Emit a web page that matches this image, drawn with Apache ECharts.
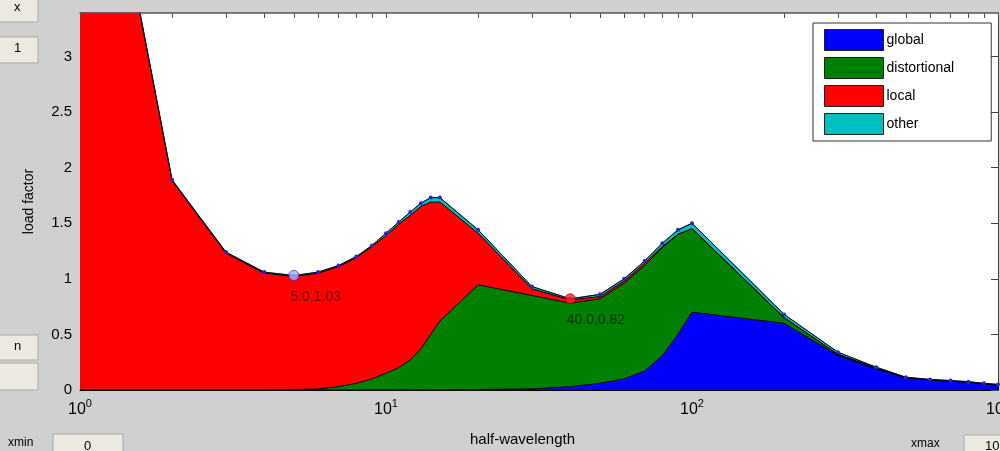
<!DOCTYPE html>
<html>
<head>
<meta charset="utf-8">
<script src="https://cdn.jsdelivr.net/npm/echarts@6/dist/echarts.min.js"></script>
<style>
html,body{margin:0;padding:0;background:#d0d0d0;}
#c{width:1000px;height:451px;}
</style>
</head>
<body>
<div id="c"></div>
<script>
// ---- data ----
const halfWavelength = [1,2,3,4,5,6,7,8,9,10,11,12,13,14,15,20,30,40,50,60,70,80,90,100,200,300,400,500,600,700,800,900,1000];
const globalMode   = [0,0,0,0,0,0,0,0,0,0,0,0,0,0,0,0.005,0.01,0.03,0.06,0.10,0.17,0.31,0.50,0.70,0.60,0.31,0.19,0.11,0.09,0.08,0.07,0.055,0.045];
const distortional = [0,0,0,0,0.003,0.01,0.03,0.06,0.10,0.15,0.20,0.27,0.37,0.50,0.62,0.94,0.84,0.75,0.76,0.86,0.95,0.97,0.90,0.75,0.05,0.01,0.005,0,0,0,0,0,0];
const localMode    = [6.19,1.88,1.23,1.05,1.017,1.04,1.08,1.13,1.19,1.24,1.29,1.30,1.28,1.19,1.07,0.465,0.06,0.03,0.02,0.02,0.02,0.01,0,0,0,0,0,0,0,0,0,0,0];
const otherMode    = [0.01,0.01,0.01,0.01,0.01,0.01,0.01,0.01,0.01,0.02,0.02,0.03,0.03,0.04,0.04,0.03,0.02,0.01,0.02,0.02,0.02,0.03,0.04,0.05,0.03,0.02,0.01,0.005,0.005,0.005,0.005,0.005,0.005];
const seriesNames  = ['global','distortional','local','other'];
const seriesColors = ['#0000ff','#008000','#ff0000','#00bfbf'];
const yTicks = [0,0.5,1,1.5,2,2.5,3];
const markedX = [5, 40];
const markedColors = ['#b0b0f0','#ff2020'];
const markedBorders = ['#3030e0','#c00000'];

// ---- derived: cumulative stacks (bottom to top) ----
const comps = [globalMode, distortional, localMode, otherMode];
const cumul = [];
comps.forEach((arr,si)=>{
  cumul.push(arr.map((v,i)=> v + (si>0 ? cumul[si-1][i] : 0)));
});
const total = cumul[cumul.length-1];
const pairs = arr => halfWavelength.map((x,i)=>[x, arr[i]]);
const minorTicks = [];
for (let d=0; d<3; d++) for (let k=1;k<10;k++) minorTicks.push(Math.log10(k*Math.pow(10,d)));
minorTicks.push(3);

const FONT = 'Liberation Sans, Arial, sans-serif';
const chart = echarts.init(document.getElementById('c'), null, {renderer:'canvas'});

// top layer drawn first, lower layers painted over it (opaque fills to zero)
const areaSeries = seriesNames.map((n,si)=>({
  name: n, type:'line', xAxisIndex:0, yAxisIndex:0,
  data: pairs(cumul[si]), showSymbol:false, smooth:false,
  lineStyle:{color:'#000', width:1},
  itemStyle:{color: seriesColors[si]},
  areaStyle:{color: seriesColors[si], opacity:1, origin:'start'},
  emphasis:{disabled:true}, z: 2
}));
const orderedAreas = areaSeries.slice().reverse();

const marked = markedX.map((mx,j)=>{
  const i = halfWavelength.indexOf(mx);
  return {
    value:[mx, total[i]],
    symbolSize: 10,
    itemStyle:{color: markedColors[j], borderColor: markedBorders[j], borderWidth:1},
    label:{show:true, formatter: mx.toFixed(1)+','+total[i].toFixed(2),
      position:[2,20], align:'left', verticalAlign:'top',
      fontSize:14, fontFamily:FONT, color: j===0 ? '#4a0000' : '#0c1a0c'}
  };
});

chart.setOption({
  backgroundColor:'#d0d0d0',
  animation:false,
  grid:{left:80, right:2, top:13, bottom:61, show:true, backgroundColor:'#ffffff', borderWidth:0, outerBoundsMode:'none', containLabel:false},
  legend:{
    orient:'vertical', left:813, top:23,
    backgroundColor:'#ffffff', borderColor:'#333', borderWidth:1,
    padding:[6,37,6,11], itemGap:6, itemWidth:59, itemHeight:21,
    icon:'rect',
    textStyle:{fontSize:14, fontFamily:FONT, color:'#000', padding:[0,0,0,-2]},
    data: seriesNames.map((n,si)=>({name:n, icon:'rect',
      itemStyle:{color:seriesColors[si], borderColor:'#222', borderWidth:1}})),
    selectedMode:false
  },
  xAxis:[
    {type:'log', logBase:10, min:1, max:1000, position:'bottom',
     axisLine:{show:true, lineStyle:{color:'#000'}},
     axisTick:{show:true, inside:true, length:6, lineStyle:{color:'#000'}},
     splitLine:{show:false},
     axisLabel:{margin:8, color:'#000',
       formatter: v=>'{b|10}{s|'+Math.round(Math.log10(v))+'}',
       rich:{b:{fontSize:16, fontFamily:FONT, color:'#000'},
             s:{fontSize:11, fontFamily:FONT, color:'#000', padding:[0,0,12,0]}}}
    },
    {type:'value', min:0, max:3, position:'top', show:true,
     axisLine:{show:true, onZero:false, lineStyle:{color:'#555', width:1.5}},
     axisTick:{show:true, inside:true, length:5, customValues:minorTicks, lineStyle:{color:'#555'}},
     axisLabel:{show:false}, splitLine:{show:false}, z:10}
  ],
  yAxis:[
    {type:'value', min:0, max:3.39, interval:0.5, position:'left',
     name:'load factor', nameLocation:'middle', nameGap:44,
     nameTextStyle:{fontSize:14, fontFamily:FONT, color:'#000'},
     axisLine:{show:true, lineStyle:{color:'#000'}},
     axisTick:{show:true, inside:true, length:7, customValues:yTicks, lineStyle:{color:'#000'}},
     axisLabel:{margin:8, fontSize:15, fontFamily:FONT, color:'#000', customValues:yTicks},
     splitLine:{show:false}},
    {type:'value', min:0, max:3.39, interval:0.5, position:'right',
     axisLine:{show:true, lineStyle:{color:'#444'}},
     axisTick:{show:true, inside:true, length:7, customValues:yTicks, lineStyle:{color:'#444'}},
     axisLabel:{show:false}, splitLine:{show:false}}
  ],
  series: orderedAreas.concat([
    {name:'total', type:'line', xAxisIndex:0, yAxisIndex:0, data: pairs(total),
     showSymbol:true, symbol:'circle', symbolSize:4,
     itemStyle:{color:'#2626d8'}, lineStyle:{width:0.6, color:'#101040'},
     emphasis:{disabled:true}, z:3},
    {name:'marked', type:'scatter', xAxisIndex:0, yAxisIndex:0, data: marked, z:4, emphasis:{disabled:true}}
  ]),
  graphic:[
    {type:'text', left:470, top:432, style:{text:'half-wavelength', fontSize:15, fontFamily:FONT, fill:'#000'}},
    {type:'rect', shape:{x:-6,y:-2,width:44,height:24}, style:{fill:'#eceae0', stroke:'#a8a8a8'}},
    {type:'text', x:14, y:1, style:{text:'x', fontSize:13, fontFamily:FONT, fill:'#000'}},
    {type:'rect', shape:{x:-6,y:37,width:44,height:26}, style:{fill:'#eceae0', stroke:'#a8a8a8'}},
    {type:'text', x:14, y:42, style:{text:'1', fontSize:13, fontFamily:FONT, fill:'#000'}},
    {type:'rect', shape:{x:-6,y:335,width:44,height:25}, style:{fill:'#eceae0', stroke:'#a8a8a8'}},
    {type:'text', x:14, y:340, style:{text:'n', fontSize:13, fontFamily:FONT, fill:'#000'}},
    {type:'rect', shape:{x:-6,y:363,width:44,height:27}, style:{fill:'#eceae0', stroke:'#a8a8a8'}},
    {type:'text', x:8, y:437, style:{text:'xmin', fontSize:12, fontFamily:FONT, fill:'#000'}},
    {type:'rect', shape:{x:53,y:434,width:70,height:24}, style:{fill:'#eceae0', stroke:'#a8a8a8'}},
    {type:'text', x:84, y:440, style:{text:'0', fontSize:13, fontFamily:FONT, fill:'#000'}},
    {type:'text', x:911, y:438, style:{text:'xmax', fontSize:12, fontFamily:FONT, fill:'#000'}},
    {type:'rect', shape:{x:964,y:435,width:50,height:24}, style:{fill:'#eceae0', stroke:'#a8a8a8'}},
    {type:'text', x:985, y:440, style:{text:'10', fontSize:13, fontFamily:FONT, fill:'#000'}}
  ]
});
</script>
</body>
</html>
